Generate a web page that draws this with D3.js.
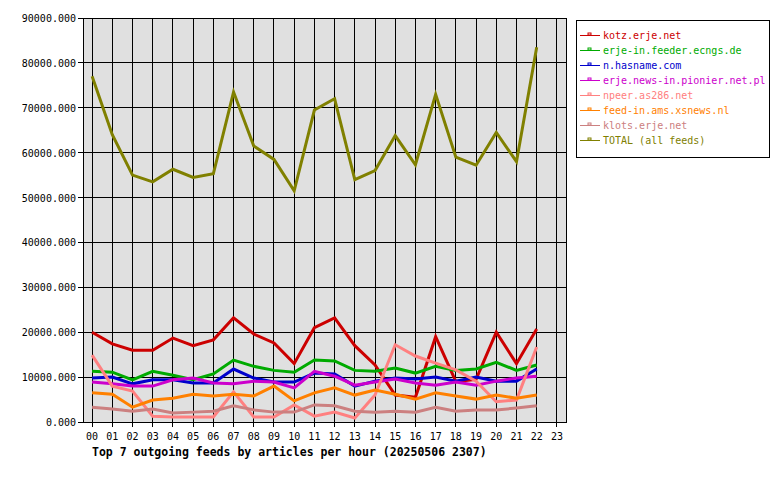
<!DOCTYPE html>
<html><head><meta charset="utf-8">
<script src="https://cdn.jsdelivr.net/npm/d3@7"></script>
<style>body{margin:0;background:#fff}text{font-family:"DejaVu Sans Mono",monospace;font-size:10px}</style>
</head><body><div id="chart"></div>
<script>
let hours = d3.range(24).map(h => String(h).padStart(2, "0"));
let feedNames = ["kotz.erje.net", "erje-in.feeder.ecngs.de", "n.hasname.com", "erje.news-in.pionier.net.pl",
  "npeer.as286.net", "feed-in.ams.xsnews.nl", "klots.erje.net", "TOTAL (all feeds)"];
let feedColors = ["#cc0000", "#00aa00", "#0000cc", "#cc00cc", "#ff8080", "#ff8000", "#cc8080", "#808000"];
let kotz = [20000,17400,16000,16000,18700,17000,18300,23200,19600,17600,13000,21000,23200,17000,12700,6000,5500,19000,9000,9500,20000,13000,20700];
let ecngs = [11300,11100,9400,11300,10400,9400,10700,13800,12400,11500,11100,13800,13600,11500,11300,12000,10900,12400,11500,11800,13300,11500,12700];
let hasname = [9800,10000,8500,9400,9400,8700,8700,11800,9800,8900,8900,10900,10700,8000,9100,9800,9600,10000,9100,10000,9100,9100,11800];
let pionier = [8900,8500,8000,8000,9400,9800,8700,8500,9100,8900,7600,11300,10200,8200,8900,9600,8700,8200,8900,8200,9100,9800,10200];
let npeer = [14900,8000,6900,1300,1100,1100,1100,6700,1100,1100,3800,1300,2200,900,6000,17200,14700,13100,11600,9100,4500,4900,16700];
let xsnews = [6500,6200,3300,4900,5300,6200,5800,6200,5800,8000,4700,6500,7600,6000,7100,6200,5100,6500,5800,5100,6000,5300,6000];
let klots = [3300,2900,2400,2900,2000,2200,2400,3600,2700,2200,2200,3800,3600,2400,2200,2400,2200,3300,2400,2700,2700,3100,3600];
let total = [77000,64000,55000,53500,56300,54500,55300,73500,61500,58500,51500,69500,72000,54000,56000,63800,57300,73000,59000,57200,64500,58000,83500];
let series = [kotz, ecngs, hasname, pionier, npeer, xsnews, klots, total];
let yTicks = d3.range(0, 90001, 10000);

let width = 780, height = 480;
let pL = 83, pR = 566, pT = 18, pB = 422;

let svg = d3.select("#chart").append("svg").attr("width", width).attr("height", height);

let x = d3.scalePoint().domain(hours).range([pL, pR]).padding(0.45);
let y = d3.scaleLinear().domain([0, 90000]).range([pB, pT]);

svg.append("rect").attr("x", pL).attr("y", pT).attr("width", pR - pL).attr("height", pB - pT)
  .attr("fill", "#e0e0e0");

// grid
svg.selectAll(".vg").data(hours).enter().append("line")
  .attr("x1", d => x(d)).attr("x2", d => x(d)).attr("y1", pT).attr("y2", pB + 5)
  .attr("stroke", "#000").attr("shape-rendering", "crispEdges");
svg.selectAll(".hg").data(yTicks).enter().append("line")
  .attr("x1", pL - 5).attr("x2", pR).attr("y1", d => y(d)).attr("y2", d => y(d))
  .attr("stroke", "#000").attr("shape-rendering", "crispEdges");
svg.append("rect").attr("x", pL).attr("y", pT).attr("width", pR - pL).attr("height", pB - pT)
  .attr("fill", "none").attr("stroke", "#000").attr("shape-rendering", "crispEdges");

svg.selectAll(".yl").data(yTicks).enter().append("text")
  .attr("x", pL - 7).attr("y", d => y(d) + 4).attr("text-anchor", "end")
  .text(d => d + ".000");
svg.selectAll(".xl").data(hours).enter().append("text")
  .attr("x", d => x(d)).attr("y", pB + 18).attr("text-anchor", "middle").text(d => d);

let line = d3.line().x((d, i) => x(hours[i])).y(d => y(d));
series.forEach((s, i) => {
  svg.append("path").datum(s).attr("d", line).attr("fill", "none")
    .attr("stroke", feedColors[i]).attr("stroke-width", 3).attr("stroke-linejoin", "miter");
});

svg.append("text").attr("x", 92).attr("y", 456).attr("font-weight", "bold")
  .style("font-size", "11.5px")
  .text("Top 7 outgoing feeds by articles per hour (20250506 2307)");

// legend
let lg = svg.append("g");
lg.append("rect").attr("x", 576.5).attr("y", 20.5).attr("width", 193).attr("height", 137)
  .attr("fill", "#fff").attr("stroke", "#000");
feedNames.forEach((n, i) => {
  let ly = 35 + i * 15;
  lg.append("line").attr("x1", 580).attr("x2", 600).attr("y1", ly).attr("y2", ly)
    .attr("stroke", feedColors[i]).attr("shape-rendering", "crispEdges");
  lg.append("rect").attr("x", 588).attr("y", ly - 2).attr("width", 3).attr("height", 2)
    .attr("fill", "none").attr("stroke", feedColors[i]).attr("stroke-width", 1);
  lg.append("text").attr("x", 603).attr("y", ly + 4).attr("fill", feedColors[i]).text(n);
});
</script></body></html>
